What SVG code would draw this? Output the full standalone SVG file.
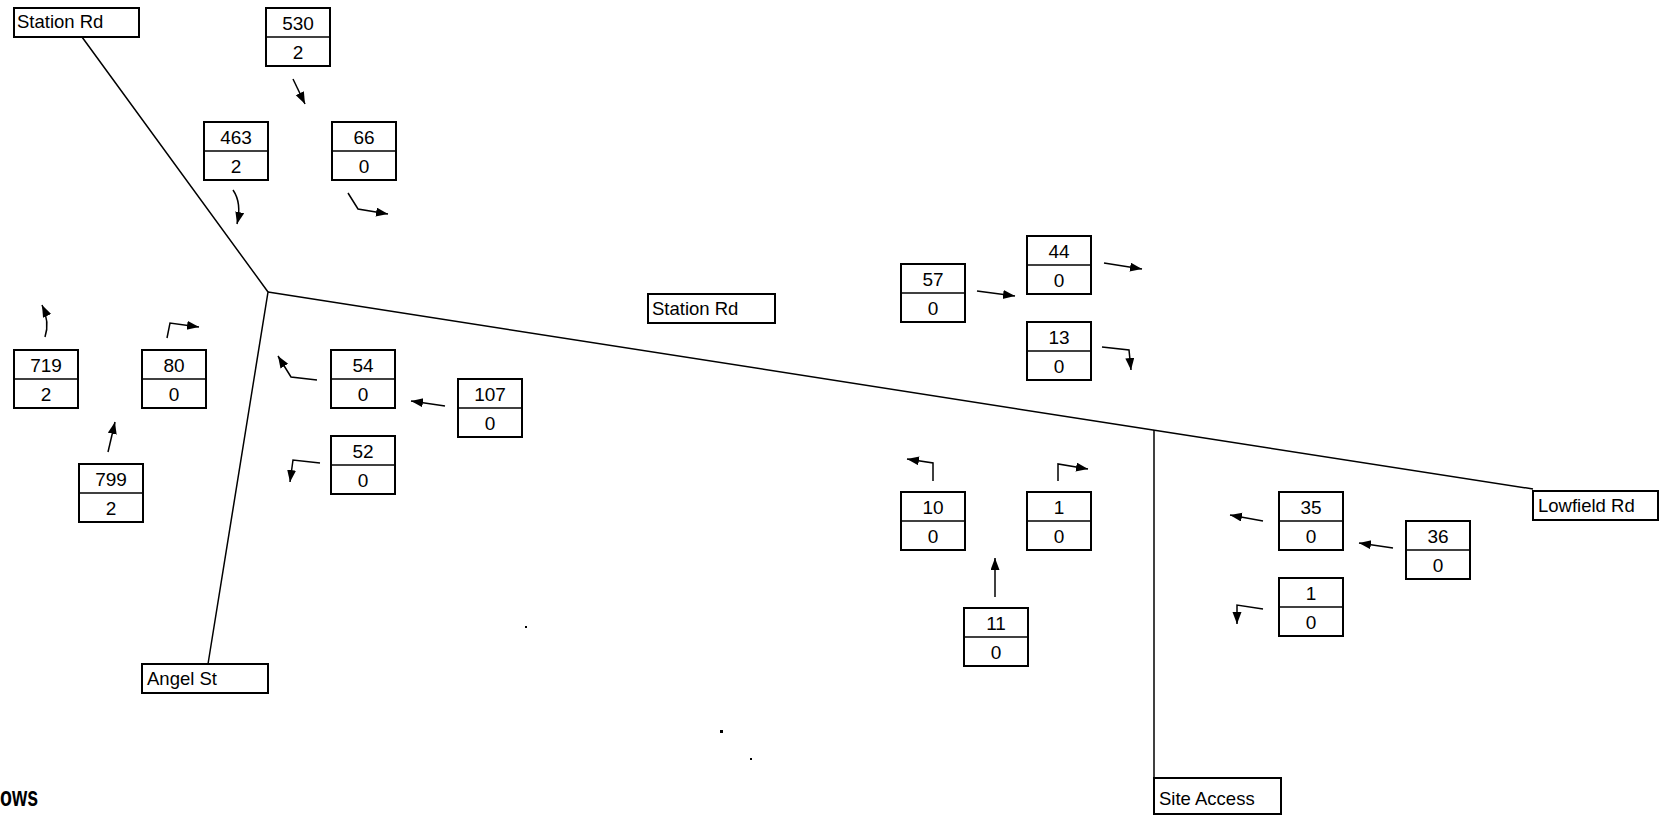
<svg xmlns="http://www.w3.org/2000/svg" width="1660" height="815" viewBox="0 0 1660 815">
<style>
.bx{fill:#fff;stroke:#000;stroke-width:2}
.dv{stroke:#000;stroke-width:1.5}
.num{font-family:"Liberation Sans",Arial,sans-serif;font-size:19px;text-anchor:middle;fill:#000}
.lbl{font-family:"Liberation Sans",Arial,sans-serif;font-size:18.5px;fill:#000}
.road{fill:none;stroke:#000;stroke-width:1.5}
.arr{fill:none;stroke:#000;stroke-width:1.5;marker-end:url(#ah)}
</style>
<defs>
<marker id="ah" markerUnits="userSpaceOnUse" markerWidth="13" markerHeight="10" refX="12" refY="4.5" orient="auto">
<path d="M0,0 L12,4.5 L0,9 z" fill="#000"/>
</marker>
</defs>
<rect width="1660" height="815" fill="#fff"/>
<g id="roads">
<polyline class="road" points="82,37 268,292 208,664"/>
<polyline class="road" points="268,292 1153,430 1533,489"/>
<line class="road" x1="1154" y1="430" x2="1154" y2="778"/>
</g>
<g id="lbl-station-nw"><rect class="bx" x="14" y="8" width="125" height="29"/><text class="lbl" x="17" y="28">Station Rd</text></g>
<g id="lbl-station-mid"><rect class="bx" x="648" y="294" width="127" height="29"/><text class="lbl" x="652" y="315">Station Rd</text></g>
<g id="lbl-angel"><rect class="bx" x="142" y="664" width="126" height="29"/><text class="lbl" x="147" y="685">Angel St</text></g>
<g id="lbl-lowfield"><rect class="bx" x="1533" y="491" width="125" height="29"/><text class="lbl" x="1538" y="512">Lowfield Rd</text></g>
<g id="lbl-site"><rect class="bx" x="1154" y="778" width="127" height="36"/><text class="lbl" x="1159" y="805">Site Access</text></g>
<g id="n530"><rect class="bx" x="266" y="8" width="64" height="58"/><line class="dv" x1="266" y1="37" x2="330" y2="37"/><text class="num" x="298" y="30">530</text><text class="num" x="298" y="59">2</text></g>
<g id="n463"><rect class="bx" x="204" y="122" width="64" height="58"/><line class="dv" x1="204" y1="151" x2="268" y2="151"/><text class="num" x="236" y="144">463</text><text class="num" x="236" y="173">2</text></g>
<g id="n66"><rect class="bx" x="332" y="122" width="64" height="58"/><line class="dv" x1="332" y1="151" x2="396" y2="151"/><text class="num" x="364" y="144">66</text><text class="num" x="364" y="173">0</text></g>
<g id="n719"><rect class="bx" x="14" y="350" width="64" height="58"/><line class="dv" x1="14" y1="379" x2="78" y2="379"/><text class="num" x="46" y="372">719</text><text class="num" x="46" y="401">2</text></g>
<g id="n80"><rect class="bx" x="142" y="350" width="64" height="58"/><line class="dv" x1="142" y1="379" x2="206" y2="379"/><text class="num" x="174" y="372">80</text><text class="num" x="174" y="401">0</text></g>
<g id="n799"><rect class="bx" x="79" y="464" width="64" height="58"/><line class="dv" x1="79" y1="493" x2="143" y2="493"/><text class="num" x="111" y="486">799</text><text class="num" x="111" y="515">2</text></g>
<g id="n54"><rect class="bx" x="331" y="350" width="64" height="58"/><line class="dv" x1="331" y1="379" x2="395" y2="379"/><text class="num" x="363" y="372">54</text><text class="num" x="363" y="401">0</text></g>
<g id="n107"><rect class="bx" x="458" y="379" width="64" height="58"/><line class="dv" x1="458" y1="408" x2="522" y2="408"/><text class="num" x="490" y="401">107</text><text class="num" x="490" y="430">0</text></g>
<g id="n52"><rect class="bx" x="331" y="436" width="64" height="58"/><line class="dv" x1="331" y1="465" x2="395" y2="465"/><text class="num" x="363" y="458">52</text><text class="num" x="363" y="487">0</text></g>
<g id="n57"><rect class="bx" x="901" y="264" width="64" height="58"/><line class="dv" x1="901" y1="293" x2="965" y2="293"/><text class="num" x="933" y="286">57</text><text class="num" x="933" y="315">0</text></g>
<g id="n44"><rect class="bx" x="1027" y="236" width="64" height="58"/><line class="dv" x1="1027" y1="265" x2="1091" y2="265"/><text class="num" x="1059" y="258">44</text><text class="num" x="1059" y="287">0</text></g>
<g id="n13"><rect class="bx" x="1027" y="322" width="64" height="58"/><line class="dv" x1="1027" y1="351" x2="1091" y2="351"/><text class="num" x="1059" y="344">13</text><text class="num" x="1059" y="373">0</text></g>
<g id="n10"><rect class="bx" x="901" y="492" width="64" height="58"/><line class="dv" x1="901" y1="521" x2="965" y2="521"/><text class="num" x="933" y="514">10</text><text class="num" x="933" y="543">0</text></g>
<g id="n1a"><rect class="bx" x="1027" y="492" width="64" height="58"/><line class="dv" x1="1027" y1="521" x2="1091" y2="521"/><text class="num" x="1059" y="514">1</text><text class="num" x="1059" y="543">0</text></g>
<g id="n11"><rect class="bx" x="964" y="608" width="64" height="58"/><line class="dv" x1="964" y1="637" x2="1028" y2="637"/><text class="num" x="996" y="630">11</text><text class="num" x="996" y="659">0</text></g>
<g id="n35"><rect class="bx" x="1279" y="492" width="64" height="58"/><line class="dv" x1="1279" y1="521" x2="1343" y2="521"/><text class="num" x="1311" y="514">35</text><text class="num" x="1311" y="543">0</text></g>
<g id="n36"><rect class="bx" x="1406" y="521" width="64" height="58"/><line class="dv" x1="1406" y1="550" x2="1470" y2="550"/><text class="num" x="1438" y="543">36</text><text class="num" x="1438" y="572">0</text></g>
<g id="n1b"><rect class="bx" x="1279" y="578" width="64" height="58"/><line class="dv" x1="1279" y1="607" x2="1343" y2="607"/><text class="num" x="1311" y="600">1</text><text class="num" x="1311" y="629">0</text></g>
<g id="connectors">
<path class="arr" d="M293,79 L305,104"/>
<path class="arr" d="M233,190 Q242,203 237,224"/>
<path class="arr" d="M348,193 L358,209 L388,214"/>
<path class="arr" d="M45,337 Q50,322 42,305"/>
<path class="arr" d="M167,338 L170,323 L199,327"/>
<path class="arr" d="M108,452 L115,422"/>
<path class="arr" d="M317,380 L291,377 L278,356"/>
<path class="arr" d="M445,406 L411,401"/>
<path class="arr" d="M320,463 L293,460 L290,482"/>
<path class="arr" d="M977,291 L1015,296"/>
<path class="arr" d="M1104,263 L1142,269"/>
<path class="arr" d="M1102,347 L1129,350 L1131,370"/>
<path class="arr" d="M933,481 L933,463 L907,459"/>
<path class="arr" d="M1058,481 L1058,464 L1088,469"/>
<path class="arr" d="M995,597 L995,558"/>
<path class="arr" d="M1263,521 L1230,515"/>
<path class="arr" d="M1393,548 L1359,543"/>
<path class="arr" d="M1263,609 L1237,605 L1237,624"/>
</g>
<g id="specks" fill="#000">
<rect x="525" y="626" width="2" height="2"/>
<rect x="720" y="730" width="3" height="3"/>
<rect x="750" y="758" width="2" height="2"/>
</g>
<text x="0" y="806" font-family="'Liberation Sans',Arial,sans-serif" font-weight="bold" font-size="27" textLength="38" lengthAdjust="spacingAndGlyphs">ows</text>
</svg>
